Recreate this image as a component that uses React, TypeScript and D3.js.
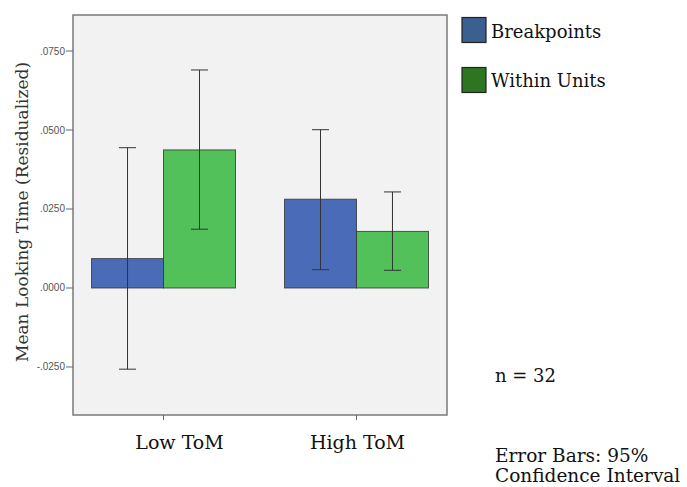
import React from "react";
import * as d3 from "d3";

const categories = ["Low ToM", "High ToM"];
const series = ["Breakpoints", "Within Units"];
const breakpointsMean = [0.0093, 0.0281];
const withinMean = [0.0437, 0.0179];
const breakpointsLow = [-0.0257, 0.0058];
const breakpointsHigh = [0.0444, 0.0501];
const withinLow = [0.0186, 0.0056];
const withinHigh = [0.069, 0.0304];
const yTicks = [-0.025, 0, 0.025, 0.05, 0.075];
const notes = ["n = 32"];
const footer = ["Error Bars: 95%", "Confidence Interval"];

const barColors = ["#4a6bb8", "#52c15a"];
const legendColors = ["#3b5f8f", "#2e7521"];
const labelShift = [16, 1];

export default function App() {
  const W = 687, H = 487;
  const left = 73, right = 447, top = 15, bottom = 415;
  const x = d3.scaleBand<string>().domain(categories).range([left, right]).paddingInner(0.254).paddingOuter(0.096);
  const sub = d3.scaleBand<string>().domain(series).range([0, x.bandwidth()]);
  const y = d3.scaleLinear().domain([-0.0402, 0.0864]).range([bottom, top]);
  const fmt = (v: number) => {
    const s = d3.format(".4f")(Math.abs(v)).replace(/^0/, "");
    return (v < 0 ? "-" : "") + s;
  };
  const means = [breakpointsMean, withinMean];
  const lows = [breakpointsLow, withinLow];
  const highs = [breakpointsHigh, withinHigh];
  const serif = "'DejaVu Serif', serif";
  return (
    <svg width={W} height={H} style={{ position: "absolute", left: 0, top: 0, background: "#fff" }}>
      <rect x={left} y={top} width={right - left} height={bottom - top} fill="#f2f2f2" stroke="#7a7a7a" strokeWidth={1.5} />
      {yTicks.map((t) => (
        <g key={t}>
          <line x1={left - 7} x2={left} y1={y(t)} y2={y(t)} stroke="#666" />
          <text x={left - 8} y={y(t)} dy="0.35em" textAnchor="end" fontSize={10} fill="#555" fontFamily="'Liberation Sans', sans-serif">{fmt(t)}</text>
        </g>
      ))}
      {categories.map((c, i) => (
        <g key={c}>
          <line x1={x(c)! + x.bandwidth() / 2} x2={x(c)! + x.bandwidth() / 2} y1={bottom} y2={bottom + 5} stroke="#666" />
          <text x={x(c)! + x.bandwidth() / 2 + labelShift[i]} y={449} textAnchor="middle" fontSize={19} fill="#111" fontFamily={serif}>{c}</text>
        </g>
      ))}
      {series.map((s, si) =>
        categories.map((c, ci) => {
          const bx = x(c)! + sub(s)!;
          const v = means[si][ci];
          return (
            <rect key={s + c} x={bx} y={y(Math.max(v, 0))} width={sub.bandwidth()} height={Math.abs(y(v) - y(0))} fill={barColors[si]} stroke="#333" strokeOpacity={0.8} strokeWidth={1} />
          );
        })
      )}
      {series.map((s, si) =>
        categories.map((c, ci) => {
          const cx = x(c)! + sub(s)! + sub.bandwidth() / 2;
          const lo = y(lows[si][ci]), hi = y(highs[si][ci]);
          return (
            <g key={"e" + s + c} stroke="#333" strokeWidth={1}>
              <line x1={cx} x2={cx} y1={lo} y2={hi} />
              <line x1={cx - 8.5} x2={cx + 8.5} y1={lo} y2={lo} />
              <line x1={cx - 8.5} x2={cx + 8.5} y1={hi} y2={hi} />
            </g>
          );
        })
      )}
      <text transform={`translate(28,212) rotate(-90)`} textAnchor="middle" fontSize={17} fill="#333" fontFamily={serif}>Mean Looking Time (Residualized)</text>
      {series.map((s, i) => (
        <g key={"l" + s}>
          <rect x={462} y={17.5 + i * 50} width={24} height={25} fill={legendColors[i]} stroke="#222" strokeWidth={1.2} />
          <text x={491} y={37.5 + i * 49} fontSize={18} fill="#111" fontFamily={serif}>{s}</text>
        </g>
      ))}
      {notes.map((n) => (
        <text key={n} x={495} y={382} fontSize={18} fill="#111" fontFamily={serif}>{n}</text>
      ))}
      {footer.map((f, i) => (
        <text key={f} x={495} y={462 + i * 20} fontSize={18.5} fill="#111" fontFamily={serif}>{f}</text>
      ))}
    </svg>
  );
}
